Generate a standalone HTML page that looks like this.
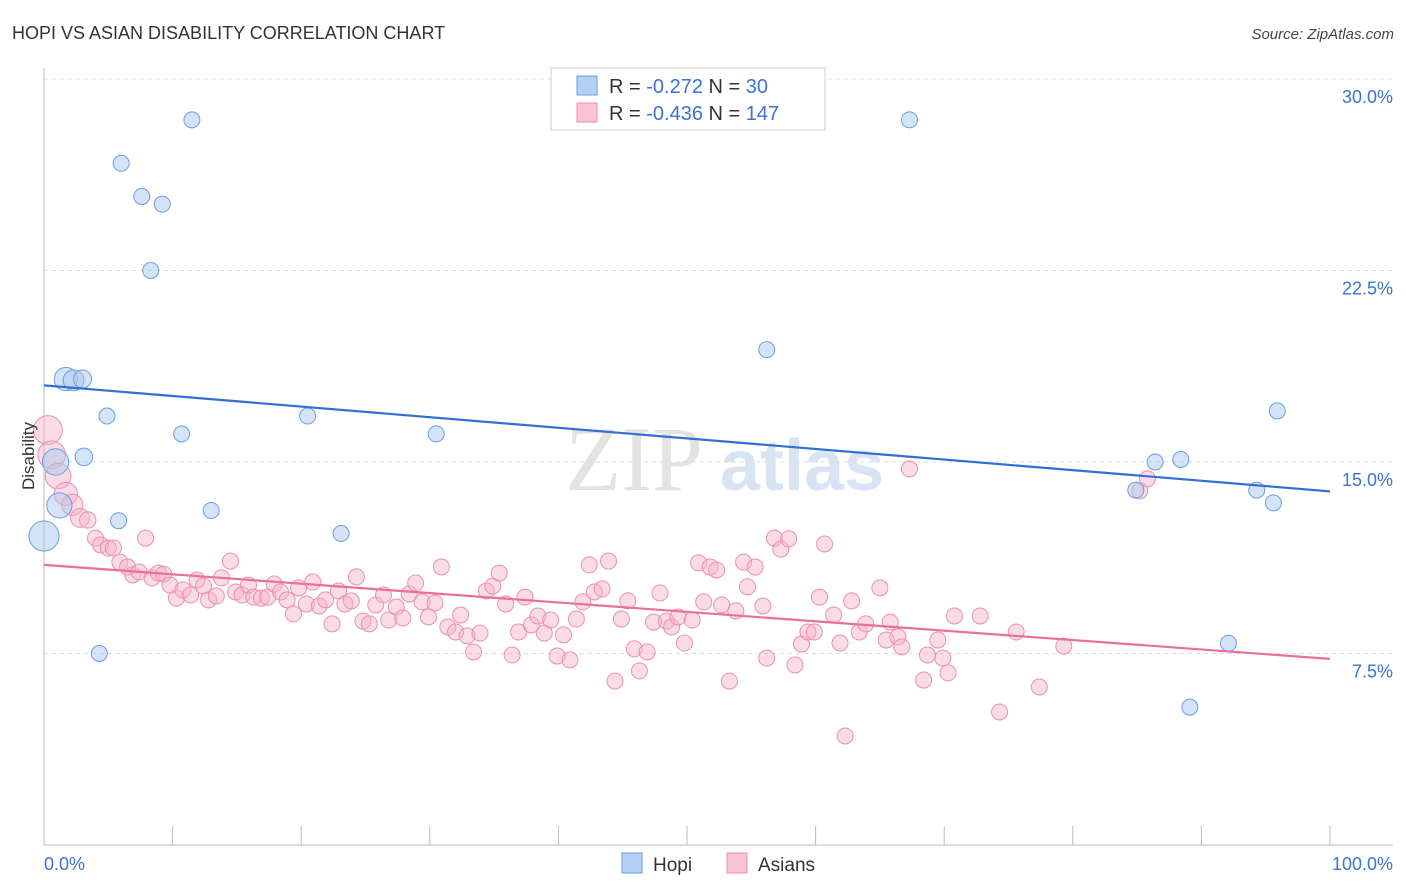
<!DOCTYPE html>
<html><head><meta charset="utf-8"><style>
body{margin:0;background:#fff;font-family:"Liberation Sans",sans-serif;}
svg{display:block}
</style></head><body>
<svg id="chart" width="1406" height="892" viewBox="0 0 1406 892" xmlns="http://www.w3.org/2000/svg">
<text x="12" y="39" font-size="18" fill="#333">HOPI VS ASIAN DISABILITY CORRELATION CHART</text>
<text x="1394" y="39" font-size="15" fill="#444" text-anchor="end" font-style="italic">Source: ZipAtlas.com</text>
<g>
<text x="634" y="490" font-size="92" fill="#e3e3e3" font-family="Liberation Serif,serif" text-anchor="middle">ZIP</text>
<text x="802" y="490" font-size="72" fill="#d8e4f4" text-anchor="middle" font-weight="bold">atlas</text>
</g>
<g id="grid"></g>
<g id="axes"></g>
<g id="marks"></g>
<text transform="translate(34,456) rotate(-90)" font-size="17" fill="#333" text-anchor="middle">Disability</text>
<g>
<rect x="551" y="68" width="274" height="62" fill="#fff" stroke="#ccc"/>
<rect x="577" y="76" width="20" height="19" fill="#b6d0f4" stroke="#6a9ee0"/>
<rect x="577" y="103" width="20" height="19" fill="#f9c3d3" stroke="#eb8fae"/>
<text x="609" y="93" font-size="20" fill="#333">R = <tspan fill="#3b73d1">-0.272</tspan>   N = <tspan fill="#3b73d1">  30</tspan></text>
<text x="609" y="120" font-size="20" fill="#333">R = <tspan fill="#3b73d1">-0.436</tspan>   N = <tspan fill="#3b73d1">147</tspan></text>
</g>
<g>
<rect x="622" y="853" width="20" height="20" fill="#b6d0f4" stroke="#6a9ee0"/>
<text x="653" y="871" font-size="19" fill="#333">Hopi</text>
<rect x="727" y="853" width="20" height="20" fill="#f9c3d3" stroke="#eb8fae"/>
<text x="758" y="871" font-size="19" fill="#333">Asians</text>
</g>
</svg>
<script>
const xTickLabels=["0.0%","100.0%"];
const yTicks=[7.5,15,22.5,30];
const yTickLabels=["7.5%","15.0%","22.5%","30.0%"];
const hopiX=[11.5,6.0,7.6,9.2,8.3,1.7,2.3,3.0,4.9,10.7,20.5,30.5,3.1,0.9,1.2,5.8,13.0,23.1,0,4.3,67.3,56.2,95.9,86.4,88.4,84.9,94.3,95.6,92.1,89.1];
const hopiY=[28.4,26.7,25.4,25.1,22.5,18.25,18.2,18.25,16.8,16.1,16.8,16.1,15.2,15.0,13.3,12.7,13.1,12.2,12.1,7.5,28.4,19.4,17.0,15.0,15.1,13.9,13.9,13.4,7.9,5.4];
const asianX=[0.3,0.6,1.1,1.7,2.2,2.8,3.4,4.0,4.4,5.0,5.4,5.9,6.5,6.9,7.4,7.9,8.4,8.9,9.3,9.8,10.3,10.8,11.4,11.9,12.4,12.8,13.4,13.8,14.5,14.9,15.4,15.9,16.3,16.9,17.4,17.9,18.4,18.9,19.4,19.8,20.4,20.9,21.4,21.9,22.4,22.9,23.4,23.9,24.3,24.8,25.3,25.8,26.4,26.8,27.4,27.9,28.4,28.9,29.4,29.9,30.4,30.9,31.4,32.0,32.4,32.9,33.4,33.9,34.4,34.9,35.4,35.9,36.4,36.9,37.4,37.9,38.4,38.9,39.4,39.9,40.4,40.9,41.4,41.9,42.4,42.8,43.4,43.9,44.4,44.9,45.4,45.9,46.3,46.9,47.4,47.9,48.4,48.8,49.3,49.8,50.4,50.9,51.3,51.8,52.3,52.7,53.3,53.8,54.4,54.7,55.3,55.9,56.2,56.8,57.3,57.9,58.4,58.9,59.4,59.9,60.3,60.7,61.4,61.9,62.3,62.8,63.4,63.9,65.0,65.5,65.8,66.4,66.7,67.3,68.4,68.7,69.5,69.9,70.3,70.8,72.8,74.3,75.6,77.4,79.3,85.2,85.8];
const asianY=[16.25,15.28,14.45,13.75,13.32,12.81,12.73,12.02,11.75,11.63,11.63,11.08,10.89,10.58,10.69,12.02,10.46,10.65,10.61,10.18,9.67,9.99,9.79,10.38,10.14,9.6,9.75,10.46,11.12,9.91,9.79,10.18,9.71,9.67,9.71,10.22,9.91,9.6,9.05,10.07,9.44,10.3,9.36,9.6,8.66,9.95,9.44,9.56,10.5,8.77,8.66,9.4,9.79,8.81,9.32,8.89,9.83,10.26,9.52,8.93,9.48,10.89,8.54,8.34,9.01,8.19,7.56,8.3,9.95,10.14,10.65,9.44,7.44,8.34,9.71,8.62,8.97,8.3,8.81,7.4,8.23,7.25,8.85,9.52,10.97,9.91,10.03,11.12,6.42,8.85,9.56,7.68,6.82,7.56,8.73,9.87,8.77,8.54,8.93,7.91,8.81,11.05,9.52,10.89,10.77,9.4,6.42,9.17,11.08,10.11,10.89,9.36,7.32,12.02,11.59,11.99,7.05,7.87,8.34,8.34,9.71,11.79,9.01,7.91,4.27,9.56,8.34,8.66,10.07,8.03,8.73,8.15,7.76,14.73,6.46,7.44,8.03,7.32,6.74,8.97,8.97,5.21,8.34,6.19,7.79,13.87,14.34];
const hopiTrend=[18.0,13.85];
const asianTrend=[10.97,7.29];

const NS="http://www.w3.org/2000/svg";
const X0=44,X1=1330,Y0=845,PER=191.5/7.5;
const sx=v=>X0+(X1-X0)*v/100, sy=v=>Y0-v*PER;
function mk(tag,attrs,parent){const e=document.createElementNS(NS,tag);for(const k in attrs)e.setAttribute(k,attrs[k]);parent.appendChild(e);return e;}
const grid=document.getElementById('grid'),axes=document.getElementById('axes'),marks=document.getElementById('marks');
yTicks.forEach((t,i)=>{
 const l=mk('line',{x1:X0,x2:1393,y1:sy(t),y2:sy(t),stroke:'#ddd','stroke-dasharray':'4,4'},grid);
 
 
 const tx=mk('text',{x:1393,y:sy(t)+24,'font-size':18,fill:'#3b73d1','text-anchor':'end'},axes);
 tx.textContent=yTickLabels[i];
 
 
});
const ya=mk('line',{x1:X0,x2:X0,y1:68,y2:Y0,stroke:'#bbb'},axes);


const xa=mk('line',{x1:X0,x2:1393,y1:Y0,y2:Y0,stroke:'#bbb'},axes);


for(let i=1;i<=10;i++){
 const t=mk('line',{x1:sx(i*10),x2:sx(i*10),y1:826,y2:Y0,stroke:'#bbb'},axes);
 
 
}
[[0,'start',44],[100,'end',1393]].forEach((d,i)=>{
 const tx=mk('text',{x:d[2],y:870,'font-size':18,fill:'#3b73d1','text-anchor':d[1]},axes);
 tx.textContent=xTickLabels[i];
 
 
});
const rad=x=>8+Math.max(0,7-x*2);
asianX.forEach((x,i)=>{
 const c=mk('circle',{cx:sx(x),cy:sy(asianY[i]),r:rad(x),fill:'rgba(247,178,200,0.45)',stroke:'#eb8fae','stroke-width':1},marks);
 
 
});
hopiX.forEach((x,i)=>{
 const c=mk('circle',{cx:sx(x),cy:sy(hopiY[i]),r:rad(x),fill:'rgba(169,200,240,0.5)',stroke:'#6a9ee0','stroke-width':1},marks);
 
 
});
const hl=mk('line',{x1:sx(0),x2:sx(100),y1:sy(hopiTrend[0]),y2:sy(hopiTrend[1]),stroke:'#2f6fd6','stroke-width':2.2},marks);


const al=mk('line',{x1:sx(0),x2:sx(100),y1:sy(asianTrend[0]),y2:sy(asianTrend[1]),stroke:'#e8709a','stroke-width':2.2},marks);


</script>
</body></html>
